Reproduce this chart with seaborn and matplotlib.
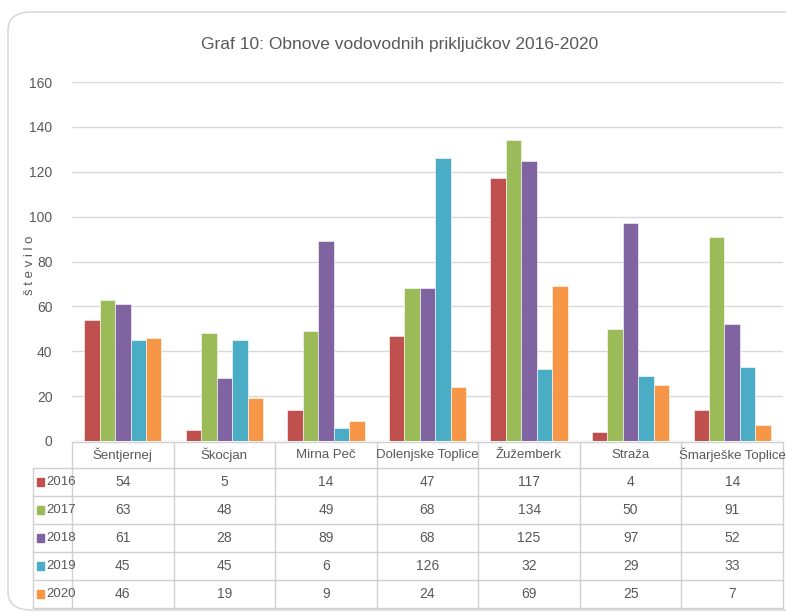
import numpy as np
import pandas as pd
import matplotlib.pyplot as plt
import seaborn as sns
from matplotlib.patches import FancyBboxPatch, Rectangle
from matplotlib.lines import Line2D

categories = ['Šentjernej', 'Škocjan', 'Mirna Peč', 'Dolenjske Toplice',
              'Žužemberk', 'Straža', 'Šmarješke Toplice']
years = ['2016', '2017', '2018', '2019', '2020']
v2016 = [54, 5, 14, 47, 117, 4, 14]
v2017 = [63, 48, 49, 68, 134, 50, 91]
v2018 = [61, 28, 89, 68, 125, 97, 52]
v2019 = [45, 45, 6, 126, 32, 29, 33]
v2020 = [46, 19, 9, 24, 69, 25, 7]
colors = ['#C0504D', '#9BBB59', '#8064A2', '#4BACC6', '#F79646']

series = [v2016, v2017, v2018, v2019, v2020]
rows = []
for y, vals in zip(years, series):
    for c, v in zip(categories, vals):
        rows.append({'kraj': c, 'leto': y, 'stevilo': v})
df = pd.DataFrame(rows)

sns.set_style('white')
plt.rcParams['font.family'] = ['Liberation Sans Narrow', 'Liberation Sans', 'DejaVu Sans']
txt = '#595959'
grid = '#D9D9D9'

W, H = 786, 612
fig = plt.figure(figsize=(W / 100, H / 100), dpi=100)

def fx(px):
    return px / W

def fy(py):
    return 1 - py / H

# chart frame
fig.patches.append(FancyBboxPatch((fx(8), fy(610)), fx(820) - fx(8), fy(12) - fy(610),
                                  boxstyle='round,pad=0,rounding_size=0.03',
                                  transform=fig.transFigure, facecolor='none',
                                  edgecolor=grid, linewidth=1.2, zorder=-1))

L, R, T, B = 72, 783, 82, 441
ax = fig.add_axes([fx(L), fy(B), fx(R) - fx(L), fy(T) - fy(B)])
ax.set_facecolor('none')
sns.barplot(data=df, x='kraj', y='stevilo', hue='leto', palette=colors,
            width=0.76, gap=0, ax=ax, legend=False, saturation=1,
            edgecolor='white', linewidth=0.4)
ax.set_ylim(0, 160)
ax.set_xlim(-0.5, len(categories) - 0.5)
ax.set_yticks(range(0, 161, 20))
ax.tick_params(axis='y', length=0, labelsize=10, labelcolor=txt, pad=14)
ax.set_xticks([])
ax.set_xlabel('')
ax.set_ylabel('')
ax.yaxis.grid(True, color=grid, linewidth=1)
ax.set_axisbelow(True)
for s in ax.spines.values():
    s.set_visible(False)

fig.text(fx(400), fy(44), 'Graf 10: Obnove vodovodnih priključkov 2016-2020',
         ha='center', va='center', fontsize=12.5, color=txt)
fig.text(fx(30), fy(265), 'š t e v i l o', rotation=90, ha='center', va='center',
         fontsize=9.5, color=txt)

# data table
tax = fig.add_axes([0, 0, 1, 1])
tax.set_xlim(0, W)
tax.set_ylim(H, 0)
tax.axis('off')
colw = (R - L) / len(categories)
row_y = [442, 468, 496, 524, 552, 580, 608]
lc = '#D0D0D0'
# header row
tax.add_line(Line2D([L, R], [row_y[0], row_y[0]], color=lc, lw=1))
for i in range(len(categories) + 1):
    tax.add_line(Line2D([L + i * colw] * 2, [row_y[0], row_y[-1]], color=lc, lw=1))
for yy in row_y[1:]:
    tax.add_line(Line2D([33, R], [yy, yy], color=lc, lw=1))
tax.add_line(Line2D([33, 33], [row_y[1], row_y[-1]], color=lc, lw=1))
for i, c in enumerate(categories):
    tax.text(L + (i + 0.5) * colw, (row_y[0] + row_y[1]) / 2, c, ha='center',
             va='center', fontsize=9.5, color=txt)
for j, (y, vals, col) in enumerate(zip(years, series, colors)):
    yc = (row_y[j + 1] + row_y[j + 2]) / 2
    tax.add_patch(Rectangle((37, yc - 4), 7, 8, color=col))
    tax.text(46, yc, y, ha='left', va='center', fontsize=9.5, color=txt)
    for i, v in enumerate(vals):
        tax.text(L + (i + 0.5) * colw, yc, str(v), ha='center', va='center',
                 fontsize=10, color=txt)

fig.savefig('out.png', dpi=100)
